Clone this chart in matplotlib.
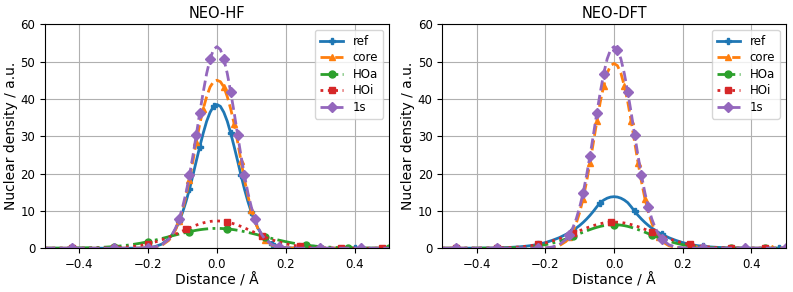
import matplotlib
matplotlib.use("Agg")
import matplotlib.pyplot as plt

# distance grid (Angstrom)
x = [-0.5, -0.48, -0.46, -0.44, -0.42, -0.4, -0.38, -0.36, -0.34, -0.32, -0.3, -0.28, -0.26, -0.24, -0.22, -0.2, -0.18, -0.16,
     -0.14, -0.13, -0.12, -0.11, -0.1, -0.09, -0.08, -0.07, -0.06, -0.05, -0.04, -0.03, -0.02, -0.01,
     0.0,
     0.01, 0.02, 0.03, 0.04, 0.05, 0.06, 0.07, 0.08, 0.09, 0.1, 0.11, 0.12, 0.13, 0.14,
     0.16, 0.18, 0.2, 0.22, 0.24, 0.26, 0.28, 0.3, 0.32, 0.34, 0.36, 0.38, 0.4, 0.42, 0.44, 0.46, 0.48, 0.5]

# 1s reference density (same in both panels)
one_s = [0, 0, 0, 0, 0, 0, 0, 0, 0, 0, 0, 0, 0, 0, 0.02, 0.09, 0.31, 0.91,
         2.37, 3.65, 5.44, 7.85, 11.0, 14.8, 19.5, 24.7, 30.4, 36.3, 41.8, 46.8, 50.7, 53.2,
         54.0,
         53.2, 50.7, 46.8, 41.8, 36.3, 30.4, 24.7, 19.5, 14.8, 11.0, 7.85, 5.44, 3.65, 2.37,
         0.91, 0.31, 0.09, 0.02, 0, 0, 0, 0, 0, 0, 0, 0, 0, 0, 0, 0, 0, 0]

# NEO-HF
hf_ref = [0, 0, 0, 0, 0, 0, 0, 0, 0, 0, 0, 0, 0, 0.01, 0.05, 0.15, 0.43, 1.1,
          2.53, 3.68, 5.21, 7.17, 9.6, 12.5, 15.8, 19.5, 23.4, 27.2, 30.8, 34.0, 36.4, 38.0,
          38.5,
          38.0, 36.4, 34.0, 30.8, 27.2, 23.4, 19.5, 15.8, 12.5, 9.6, 7.17, 5.21, 3.68, 2.53,
          1.1, 0.43, 0.15, 0.05, 0.01, 0, 0, 0, 0, 0, 0, 0, 0, 0, 0, 0, 0, 0]
hf_core = [0, 0, 0, 0, 0, 0, 0, 0, 0, 0, 0, 0, 0, 0, 0.02, 0.07, 0.25, 0.8,
           2.1, 3.3, 5.0, 7.3, 10.3, 14.0, 18.4, 23.3, 28.5, 33.3, 37.3, 40.6, 43.2, 44.6,
           45.0,
           44.6, 43.2, 40.6, 37.3, 33.3, 28.5, 23.3, 18.4, 14.0, 10.3, 7.3, 5.0, 3.3, 2.1,
           0.8, 0.25, 0.07, 0.02, 0, 0, 0, 0, 0, 0, 0, 0, 0, 0, 0, 0, 0, 0]
hf_hoa = [0, 0.01, 0.01, 0.02, 0.04, 0.06, 0.1, 0.14, 0.21, 0.31, 0.43, 0.6, 0.81, 1.07, 1.38, 1.75, 2.16, 2.6,
          3.07, 3.32, 3.55, 3.79, 4.01, 4.23, 4.44, 4.62, 4.8, 4.95, 5.07, 5.17, 5.24, 5.29,
          5.3,
          5.29, 5.24, 5.17, 5.07, 4.95, 4.8, 4.62, 4.44, 4.23, 4.01, 3.79, 3.55, 3.32, 3.07,
          2.6, 2.16, 1.75, 1.38, 1.07, 0.81, 0.6, 0.43, 0.31, 0.21, 0.14, 0.1, 0.06, 0.04, 0.02, 0.01, 0.01, 0]
hf_hoi = [0, 0, 0, 0, 0, 0.01, 0.01, 0.02, 0.04, 0.07, 0.12, 0.2, 0.33, 0.52, 0.79, 1.17, 1.65, 2.25,
          2.97, 3.36, 3.77, 4.19, 4.61, 5.03, 5.44, 5.83, 6.19, 6.51, 6.78, 7.0, 7.17, 7.27,
          7.3,
          7.27, 7.17, 7.0, 6.78, 6.51, 6.19, 5.83, 5.44, 5.03, 4.61, 4.19, 3.77, 3.36, 2.97,
          2.25, 1.65, 1.17, 0.79, 0.52, 0.33, 0.2, 0.12, 0.07, 0.04, 0.02, 0.01, 0.01, 0, 0, 0, 0, 0]

# NEO-DFT
dft_ref = [0, 0, 0.01, 0.01, 0.02, 0.03, 0.05, 0.07, 0.11, 0.16, 0.23, 0.34, 0.5, 0.72, 1.05, 1.5, 2.1, 2.8,
           3.7, 4.2, 4.8, 5.4, 6.1, 6.9, 7.8, 8.8, 9.9, 11.1, 12.2, 12.9, 13.4, 13.7,
           13.8,
           13.7, 13.4, 12.9, 12.2, 11.1, 9.9, 8.8, 7.8, 6.9, 6.1, 5.4, 4.8, 4.2, 3.7,
           2.8, 2.1, 1.5, 1.05, 0.72, 0.5, 0.34, 0.23, 0.16, 0.11, 0.07, 0.05, 0.03, 0.02, 0.01, 0.01, 0, 0]
dft_core = [0, 0, 0, 0, 0, 0, 0, 0, 0, 0, 0, 0, 0, 0, 0.01, 0.05, 0.2, 0.65,
            1.8, 2.9, 4.5, 6.7, 9.6, 13.3, 17.8, 22.9, 28.4, 34.0, 39.2, 43.5, 46.9, 48.9,
            49.5,
            48.9, 46.9, 43.5, 39.2, 34.0, 28.4, 22.9, 17.8, 13.3, 9.6, 6.7, 4.5, 2.9, 1.8,
            0.65, 0.2, 0.05, 0.01, 0, 0, 0, 0, 0, 0, 0, 0, 0, 0, 0, 0, 0, 0]
dft_hoa = [0, 0, 0, 0, 0, 0, 0.01, 0.01, 0.03, 0.05, 0.09, 0.15, 0.25, 0.41, 0.63, 0.94, 1.35, 1.86,
           2.48, 2.82, 3.17, 3.54, 3.91, 4.28, 4.65, 4.99, 5.31, 5.59, 5.84, 6.04, 6.18, 6.27,
           6.3,
           6.27, 6.18, 6.04, 5.84, 5.59, 5.31, 4.99, 4.65, 4.28, 3.91, 3.54, 3.17, 2.82, 2.48,
           1.86, 1.35, 0.94, 0.63, 0.41, 0.25, 0.15, 0.09, 0.05, 0.03, 0.01, 0.01, 0, 0, 0, 0, 0, 0]
dft_hoi = [0, 0, 0, 0, 0.01, 0.01, 0.02, 0.04, 0.07, 0.12, 0.19, 0.3, 0.47, 0.7, 1.01, 1.41, 1.92, 2.52,
           3.2, 3.56, 3.94, 4.31, 4.69, 5.06, 5.42, 5.76, 6.06, 6.33, 6.57, 6.75, 6.89, 6.97,
           7.0,
           6.97, 6.89, 6.75, 6.57, 6.33, 6.06, 5.76, 5.42, 5.06, 4.69, 4.31, 3.94, 3.56, 3.2,
           2.52, 1.92, 1.41, 1.01, 0.7, 0.47, 0.3, 0.19, 0.12, 0.07, 0.04, 0.02, 0.01, 0.01, 0, 0, 0, 0]

labels = ['ref', 'core', 'HOa', 'HOi', '1s']
styles = [('-', 'P'), ('--', '^'), ('-.', 'o'), (':', 's'), ('--', 'D')]
colors = ['tab:blue', 'tab:orange', 'tab:green', 'tab:red', 'tab:purple']

panels = [('NEO-HF', [hf_ref, hf_core, hf_hoa, hf_hoi, one_s], 0.064),
          ('NEO-DFT', [dft_ref, dft_core, dft_hoa, dft_hoi, one_s], 0.035)]

fig = plt.figure(figsize=(7.93, 2.92), dpi=100)
axes = [fig.add_axes([0.0567, 0.150, 0.4338, 0.767]),
        fig.add_axes([0.5578, 0.150, 0.4330, 0.767])]

for ax, (title, series, start) in zip(axes, panels):
    ax.set_xlim(-0.5, 0.5)
    ax.set_ylim(0, 60)
    for y, lab, (ls, mk), c in zip(series, labels, styles, colors):
        ax.plot(x, y, linestyle=ls, marker=mk, color=c, label=lab, lw=2,
                markersize=5, markevery=(start, 0.097))
    ax.set_title(title, fontsize=10.5, pad=4.5)
    ax.set_xlabel('Distance / Å', fontsize=10, labelpad=1.5)
    ax.set_ylabel('Nuclear density / a.u.', fontsize=10, labelpad=2)
    ax.set_xticks([-0.4, -0.2, 0.0, 0.2, 0.4])
    ax.tick_params(labelsize=8.5)
    ax.grid(True)
    ax.legend(loc='upper right', fontsize=8.5, labelspacing=0.3)

fig.savefig('out.png', dpi=100)
